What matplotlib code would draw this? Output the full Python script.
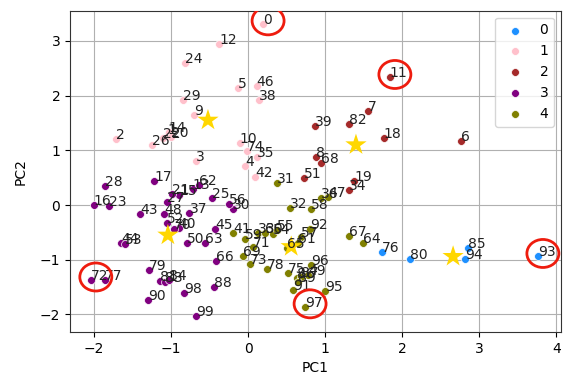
import matplotlib
matplotlib.use("Agg")
import matplotlib.pyplot as plt
import matplotlib.transforms as mtransforms
from matplotlib.patches import Ellipse

# ---- data ----
ids_c0 = [76, 80, 85, 93, 94]
pc1_c0 = [1.74, 2.10, 2.85, 3.76, 2.82]
pc2_c0 = [-0.85, -0.99, -0.79, -0.94, -0.99]

ids_c1 = [0, 1, 2, 3, 4, 5, 9, 10, 12, 14, 20, 22, 24, 26, 29, 35, 38, 42, 46, 74]
pc1_c1 = [0.195, -1.04, -1.71, -0.67, -0.04, -0.13, -0.70, -0.11, -0.376, -1.03,
          -1.00, -1.10, -0.82, -1.25, -0.84, 0.11, 0.14, 0.09, 0.11, -0.01]
pc2_c1 = [3.31, 1.30, 1.20, 0.81, 0.71, 2.13, 1.645, 1.13, 2.94, 1.34,
          1.24, 1.22, 2.59, 1.10, 1.92, 0.88, 1.92, 0.52, 2.18, 0.99]

ids_c2 = [6, 7, 8, 11, 18, 19, 34, 39, 51, 68, 82]
pc1_c2 = [2.76, 1.55, 0.88, 1.84, 1.76, 1.38, 1.31, 0.87, 0.72, 0.94, 1.31]
pc2_c2 = [1.17, 1.72, 0.88, 2.33, 1.22, 0.43, 0.27, 1.44, 0.50, 0.77, 1.48]

ids_c3 = [13, 15, 16, 17, 21, 23, 25, 27, 28, 30, 37, 40, 43, 44, 45, 48, 50,
          52, 53, 56, 62, 63, 66, 70, 72, 77, 79, 81, 83, 84, 88, 90, 98, 99]
pc1_c3 = [-0.72, -0.89, -2.00, -1.22, -0.99, -1.81, -0.47, -1.05, -1.86, -0.19,
          -0.76, -0.90, -1.40, -1.65, -0.43, -1.09, -0.79, -1.05, -1.60, -0.25,
          -0.64, -0.56, -0.42, -0.96, -2.04, -1.86, -1.29, -1.14, -1.08, -1.02,
          -0.44, -1.30, -0.83, -0.68]
pc2_c3 = [0.30, 0.18, 0.00, 0.44, 0.21, -0.02, 0.12, 0.06, 0.35, -0.08,
          -0.14, -0.42, -0.16, -0.70, -0.43, -0.16, -0.69, -0.33, -0.72, 0.02,
          0.37, -0.70, -1.02, -0.44, -1.37, -1.37, -1.19, -1.38, -1.40, -1.37,
          -1.50, -1.74, -1.60, -2.02]

ids_c4 = [31, 32, 33, 36, 41, 47, 49, 54, 55, 57, 58, 59, 60, 61, 64, 65, 67,
          69, 71, 73, 75, 78, 86, 87, 89, 91, 92, 95, 96, 97]
pc1_c4 = [0.37, 0.54, 0.13, 0.95, -0.19, 1.04, 0.78, 0.32, 0.37, 0.69, 0.82,
          -0.04, 0.22, 0.65, 1.49, 0.50, 1.31, -0.06, 0.06, 0.02, 0.52, 0.24,
          0.63, 0.69, 0.65, 0.58, 0.80, 1.00, 0.82, 0.74]
pc2_c4 = [0.40, -0.05, -0.52, 0.12, -0.52, 0.14, -1.28, -0.53, -0.46, -0.58,
          -0.08, -0.62, -0.52, -0.70, -0.70, -0.79, -0.57, -0.94, -0.76, -1.07,
          -1.25, -1.16, -1.34, -1.31, -1.40, -1.55, -0.43, -1.58, -1.10, -1.86]

center_pc1 = [2.66, -0.52, 1.40, -1.04, 0.56]
center_pc2 = [-0.94, 1.55, 1.10, -0.55, -0.76]

cluster_names = ["0", "1", "2", "3", "4"]
cluster_colors = ["#1E90FF", "#FFC0CB", "#A52A2A", "#800080", "#808000"]
highlight_ids = [0, 11, 72, 93, 97]

groups = [(ids_c0, pc1_c0, pc2_c0), (ids_c1, pc1_c1, pc2_c1), (ids_c2, pc1_c2, pc2_c2),
          (ids_c3, pc1_c3, pc2_c3), (ids_c4, pc1_c4, pc2_c4)]

# ---- figure ----
fig = plt.figure(figsize=(5.63, 3.76), dpi=100)
ax = fig.add_axes([70 / 563, 1 - 332 / 376, (561 - 70) / 563, (332 - 10.7) / 376])
ax.grid(True, color="#b0b0b0", lw=0.8)
ax.set_axisbelow(True)

for (ids, xs, ys), name, col in zip(groups, cluster_names, cluster_colors):
    ax.scatter(xs, ys, s=32, c=col, edgecolors="white", linewidths=0.5,
               label=name, zorder=2)

ax.scatter(center_pc1, center_pc2, marker="*", s=260, c="#FFD700",
           edgecolors="none", zorder=3)

pos = {}
for ids, xs, ys in groups:
    for i, x, y in zip(ids, xs, ys):
        ax.text(x, y, str(i), fontsize=10, color="#222222", zorder=4)
        pos[i] = (x, y)

ax.set_xlim(-2.31, 4.06)
ax.set_ylim(-2.32, 3.55)
ax.set_xticks([-2, -1, 0, 1, 2, 3, 4])
ax.set_yticks([-2, -1, 0, 1, 2, 3])

# red highlight ellipses (offset a few pixels toward the label)
offset = mtransforms.ScaledTranslation(5 / 100, 3 / 100, fig.dpi_scale_trans)
for i in highlight_ids:
    x, y = pos[i]
    e = Ellipse((x, y), width=32 / 77.1, height=28 / 54.7, fill=False,
                edgecolor="#EE1C0E", lw=2.0, transform=ax.transData + offset,
                zorder=5)
    ax.add_patch(e)

ax.set_xlabel("PC1")
ax.set_ylabel("PC2", labelpad=9)
for sp in ax.spines.values():
    sp.set_color("#333333")

ax.legend(loc="upper right")
fig.savefig("out.png", dpi=100)
